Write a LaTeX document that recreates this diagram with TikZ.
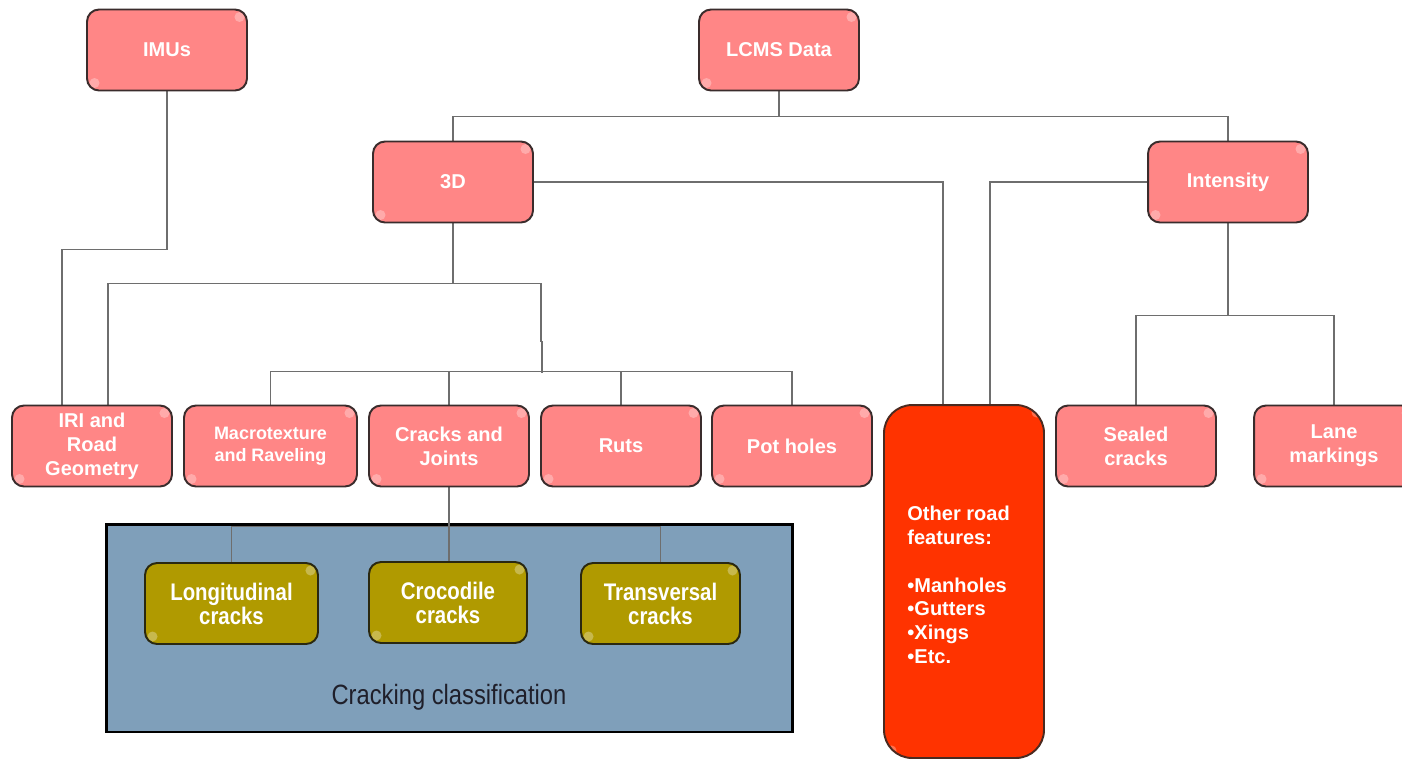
\documentclass[tikz,border=0pt]{standalone}
\usepackage{fontspec}
\setmainfont{Liberation Sans}
\newfontfamily\narrowfont{Liberation Sans}[FakeStretch=0.85]
\usetikzlibrary{calc}
\definecolor{pinkfill}{HTML}{FF8686}
\definecolor{pinkedge}{HTML}{3A2C2C}
\definecolor{otherfill}{HTML}{FF3300}
\definecolor{otheredge}{HTML}{4A2A20}
\definecolor{olivefill}{HTML}{B09A00}
\definecolor{oliveedge}{HTML}{2A2810}
\definecolor{classfill}{HTML}{7F9FBA}
\definecolor{conncol}{HTML}{6E6E6E}
\definecolor{classtext}{HTML}{1F1F2A}
\pgfdeclarelayer{back}
\pgfdeclarelayer{bg}
\pgfsetlayers{back,bg,main}
\begin{document}
\begin{tikzpicture}[x=0.02cm,y=-0.02cm,
  shine/.style={path picture={
    \fill[white,opacity=0.3] ([shift={(-0.15cm,-0.15cm)}]path picture bounding box.north east) circle (0.1cm);
    \fill[white,opacity=0.3] ([shift={(0.15cm,0.15cm)}]path picture bounding box.south west) circle (0.1cm);}},
  box/.style={draw=pinkedge, line width=1.1pt, fill=pinkfill, rounded corners=0.24cm,
    minimum width=3.2cm, minimum height=1.62cm, inner sep=0pt, align=center, text=white,
    font=\fontsize{11.4pt}{13.66pt}\selectfont\bfseries, shine},
  smallbox/.style={box, font=\fontsize{10.24pt}{12.2pt}\selectfont\bfseries},
  otherbox/.style={draw=otheredge, line width=1.1pt, fill=otherfill, rounded corners=0.56cm,
    minimum width=3.2cm, minimum height=7.06cm, inner sep=0pt, shine},
  othertext/.style={align=left, text=white, inner sep=0pt,
    font=\fontsize{11.4pt}{13.5pt}\selectfont\bfseries},
  olivebox/.style={draw=oliveedge, line width=1.1pt, fill=olivefill, rounded corners=0.24cm,
    minimum height=1.62cm, inner sep=0pt, align=center, text=white,
    font=\narrowfont\fontsize{13.66pt}{13.66pt}\selectfont\bfseries, shine},
  classbox/.style={draw=black, line width=1.7pt, fill=classfill, minimum width=13.74cm,
    minimum height=4.16cm, inner sep=0pt},
  classlabel/.style={text=classtext, inner sep=0pt, font=\narrowfont\fontsize{15.9pt}{18pt}\selectfont},
  conn/.style={draw=conncol, line width=0.85pt}
]
\useasboundingbox (0,0) rectangle (1402,762);
\begin{pgfonlayer}{back}
\fill[white] (0,0) rectangle (1402,762);
\node[classbox] (cls) at (449.5,628) {};
\end{pgfonlayer}

% top level
\node[box] (imu) at (167,50) {IMUs};
\node[box] (lcms) at (779,50) {LCMS Data};
\node[box] (d3) at (453,182) {3D};
\node[box] (int) at (1228,182) {Intensity};

% second level
\node[box] (iri) at (92,446) {IRI and\\Road\\Geometry};
\node[smallbox, minimum width=3.46cm] (mac) at (270.5,446) {Macrotexture\\and Raveling};
\node[box] (cj) at (449,446) {Cracks and\\Joints};
\node[box] (ruts) at (621,446) {Ruts};
\node[box] (pot) at (792,446) {Pot holes};
\node[box] (seal) at (1136,446) {Sealed\\cracks};
\node[box] (lane) at (1334,446) {Lane\\markings};

% other road features
\node[otherbox] (other) at (964,581.5) {};
\node[othertext, anchor=north west] (otht) at ($(other.north west)+(24,102)$)
  {Other road\\features:\\[13.5pt]•Manholes\\•Gutters\\•Xings\\•Etc.};

% cracking classification
\node[classlabel] (clslabel) at (449,697) {Cracking classification};
\node[olivebox, minimum width=3.46cm] (lon) at (231.5,603.5) {Longitudinal\\cracks};
\node[olivebox, minimum width=3.16cm] (cro) at (448,602.5) {Crocodile\\cracks};
\node[olivebox, minimum width=3.18cm] (tra) at (660.5,603.5) {Transversal\\cracks};

% connectors
\begin{pgfonlayer}{bg}
\draw[conn] (imu.south) -- ++(0,158) -| ($(iri.north)+(-30,0)$);
\draw[conn] (lcms.south) -- ++(0,25) -| (d3.north);
\draw[conn] (lcms.south) -- ++(0,25) -| (int.north);
\draw[conn] (d3.south) -- ++(0,60) -| ($(iri.north)+(16,0)$);
\draw[conn] (d3.south) -- ++(0,60) -- ++(88,0) -- ++(0,58) -- ++(1,0) -- ++(0,32) coordinate (j3);
\draw[conn] (mac.north) -- ++(0,-33) -| (pot.north);
\draw[conn] (cj.north) -- ++(0,-33);
\draw[conn] (ruts.north) -- ++(0,-33);
\draw[conn] (d3.east) -| ($(other.north)+(-21,0)$);
\draw[conn] (int.west) -| ($(other.north)+(26,0)$);
\draw[conn] (int.south) -- ++(0,92) -| (seal.north);
\draw[conn] (int.south) -- ++(0,92) -| (lane.north);
\draw[conn] (cj.south) -- ++(0,39) -| (lon.north);
\draw[conn] (cj.south) -- ++(0,39) -| (tra.north);
\draw[conn] (cj.south) -- (cj.south |- cro.north);
\end{pgfonlayer}
\end{tikzpicture}
\end{document}
